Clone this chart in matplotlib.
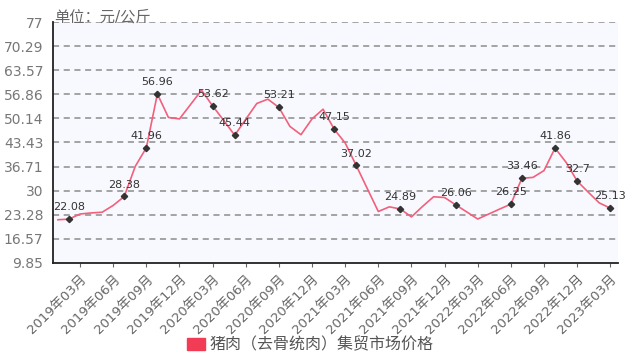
"""Pork (boneless) market price, monthly, 2019-01 to 2023-03."""

import matplotlib
matplotlib.use("Agg")
import matplotlib.pyplot as plt
from matplotlib.patches import Patch

plt.rcParams["font.family"] = ["DejaVu Sans", "Noto Sans CJK SC"]

# monthly values, 2019-01 .. 2023-03
months = [f"{y}年{m:02d}月" for y in range(2019, 2024) for m in range(1, 13)][:51]
prices = [
    21.9, 22.08, 23.5, 23.8, 24.0, 25.9, 28.38, 36.8, 41.96, 56.96,
    50.4, 50.0, 54.0, 58.0, 53.62, 49.6, 45.44, 49.9, 54.3, 55.5,
    53.21, 47.9, 45.6, 50.0, 52.7, 47.15, 43.3, 37.02, 30.6, 24.2,
    25.5, 24.89, 22.7, 25.6, 28.3, 28.1, 26.06, 24.1, 22.1, 23.5,
    24.9, 26.25, 33.46, 33.7, 35.6, 41.86, 37.9, 32.7, 29.6, 26.6,
    25.13,
]
labelled = [1, 6, 8, 9, 14, 16, 20, 25, 27, 31, 36, 41, 42, 45, 47, 50]
yticks = [9.85, 16.57, 23.28, 30, 36.71, 43.43, 50.14, 56.86, 63.57, 70.29, 77]
series_name = "猪肉（去骨统肉）集贸市场价格"
unit = "单位：元/公斤"

fig = plt.figure(figsize=(6.34, 3.56), dpi=100)
ax = fig.add_axes([53 / 634, 1 - 263 / 356, 565 / 634, 241 / 356])
ax.set_facecolor("#f8f9ff")

x = list(range(len(prices)))
ax.plot(x, prices, color="#f2607a", lw=1.2, zorder=3)
ax.plot([x[i] for i in labelled], [prices[i] for i in labelled], ls="none",
        marker="D", ms=3.2, color="#333333", zorder=4)
for i in labelled:
    ax.annotate(f"{prices[i]:g}", (x[i], prices[i]), xytext=(0, 5),
                textcoords="offset points", ha="center", va="bottom",
                fontsize=8, color="#333333", zorder=5)

ax.set_xlim(-0.45, 50.7)
ax.set_ylim(9.85, 77)
ax.set_yticks(yticks)
ax.set_yticklabels([f"{v:g}" for v in yticks], color="#777777", fontsize=10)
ax.tick_params(axis="y", length=0, pad=7)
for v in yticks[1:]:
    ax.axhline(v, color="#8c8c8c", lw=1.1, ls=(0, (4, 3)), zorder=1)

tick_idx = list(range(2, 51, 3))
ax.set_xticks(tick_idx)
ax.set_xticklabels([months[i] for i in tick_idx], rotation=45, ha="right",
                   rotation_mode="anchor", color="#666666", fontsize=9.5)
ax.tick_params(axis="x", length=3, color="#666666", pad=4)

for s in ("top", "right"):
    ax.spines[s].set_visible(False)
for s in ("left", "bottom"):
    ax.spines[s].set_color("#222222")
    ax.spines[s].set_linewidth(1.3)

fig.text(54 / 634, 1 - 17 / 356, unit, color="#666666", fontsize=11, va="center")

fig.legend(handles=[Patch(color="#f23c55", label=series_name)],
           loc="center", bbox_to_anchor=(0.49, 1 - 345 / 356), frameon=False,
           handlelength=1.1, handleheight=0.8, handletextpad=0.3,
           prop={"size": 11.5}, labelcolor="#555555")

fig.savefig("out.png", dpi=100)
